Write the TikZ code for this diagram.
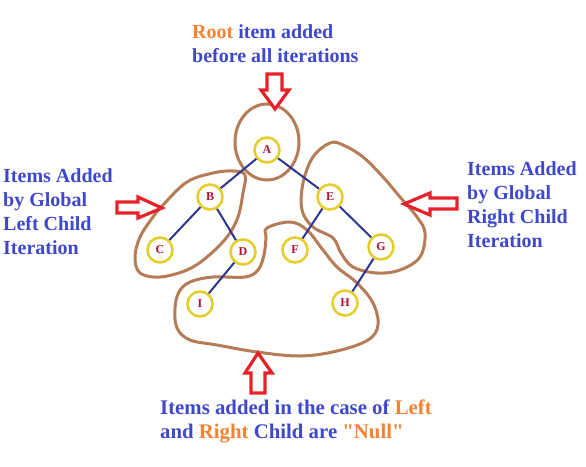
\documentclass[tikz,border=0pt]{standalone}
\usepackage{fontspec}
\setmainfont{Liberation Serif}[Ligatures=TeXOff]
\definecolor{txtblue}{HTML}{3F48CC}
\definecolor{txtorange}{HTML}{F58232}
\definecolor{ringyellow}{HTML}{E6CF2C}
\definecolor{letterred}{HTML}{B0122E}
\definecolor{edgeblue}{HTML}{2E3690}
\definecolor{blobbrown}{HTML}{B57C57}
\definecolor{arrowred}{HTML}{E8202A}
\tikzset{
  treenode/.style={circle, draw=ringyellow, line width=2.6pt, minimum size=25pt, inner sep=0pt,
    text=letterred, font=\bfseries\fontsize{12}{12}\selectfont},
  treeedge/.style={draw=edgeblue, line width=2pt},
  blob/.style={draw=blobbrown, line width=3pt, line join=round},
  blockarrow/.style={draw=arrowred, fill=white, line width=3.2pt, line join=miter},
  caption/.style={anchor=base west, inner sep=0pt, text=txtblue, font=\bfseries\fontsize{20}{24}\selectfont},
  widecaption/.style={caption, font=\bfseries\fontsize{20.8}{24}\selectfont},
}
\begin{document}
\begin{tikzpicture}[x=1pt, y=-1pt]
\useasboundingbox (0,0) rectangle (586,466);

% brown hand-drawn groupings
\draw[blob] (267,142) ellipse [x radius=32, y radius=38];
\draw[blob] plot[smooth cycle, tension=0.6] coordinates {
  (163,205) (187,182) (213,173) (233,171) (245,175) (243,193) (238,217) (227,237)
  (207,257) (187,270) (160,277) (140,273) (135,257) (140,237) (153,217)};
\draw[blob] plot[smooth cycle, tension=0.6] coordinates {
  (330,143) (313,157) (303,183) (302,210) (313,227) (333,238) (341,253) (353,267)
  (377,273) (400,270) (420,257) (425,233) (417,217) (400,197) (383,177) (363,157) (343,145)};
\draw[blob] plot[smooth cycle, tension=0.6] coordinates {
  (267,228) (290,222) (307,230) (323,250) (337,267) (357,283) (373,303) (378,325)
  (368,340) (337,351) (300,356) (257,352) (217,345) (190,340) (177,328) (175,308)
  (179,292) (190,282) (213,277) (245,277) (258,270) (264,255) (266,238)};

% tree
\node[treenode] (A) at (267,150) {A};
\node[treenode] (B) at (210,197) {B};
\node[treenode] (C) at (160,250) {C};
\node[treenode] (D) at (243,252) {D};
\node[treenode] (E) at (330,197) {E};
\node[treenode] (F) at (295,250) {F};
\node[treenode] (G) at (381,247) {G};
\node[treenode] (H) at (345,303) {H};
\node[treenode] (I) at (200,304) {I};
\draw[treeedge] (A) -- (B);
\draw[treeedge] (A) -- (E);
\draw[treeedge] (B) -- (C);
\draw[treeedge] (B) -- (D);
\draw[treeedge] (D) -- (I);
\draw[treeedge] (E) -- (F);
\draw[treeedge] (E) -- (G);
\draw[treeedge] (G) -- (H);

% red block arrows
\draw[blockarrow] (267,74) -- (282,74) -- (282,90) -- (289,90) -- (275,109) -- (261,90) -- (267,90) -- cycle;
\draw[blockarrow] (117,202) -- (138,202) -- (138,197) -- (162,208) -- (138,218) -- (138,213) -- (117,213) -- cycle;
\draw[blockarrow] (457,198) -- (430,198) -- (430,193) -- (404,204) -- (430,215) -- (430,209) -- (457,209) -- cycle;
\draw[blockarrow] (251,393) -- (251,373) -- (245,373) -- (258,353) -- (272,373) -- (265,373) -- (265,393) -- cycle;

% captions
\node[caption] (t1) at (192,38) {{\color{txtorange}Root} item added};
\node[caption] (t2) at (192,62) {before all iterations};
\node[caption] (l1) at (3,182) {Items Added};
\node[caption] (l2) at (3,206) {by Global};
\node[caption] (l3) at (3,230) {Left Child};
\node[caption] (l4) at (3,254) {Iteration};
\node[caption] (r1) at (467,175) {Items Added};
\node[caption] (r2) at (467,199) {by Global};
\node[caption] (r3) at (467,223) {Right Child};
\node[caption] (r4) at (467,247) {Iteration};
\node[widecaption] (b1) at (160,414) {Items added in the case of {\color{txtorange}Left}};
\node[widecaption] (b2) at (160,438) {and {\color{txtorange}Right} Child are {\color{txtorange}"Null"}};
\end{tikzpicture}
\end{document}
